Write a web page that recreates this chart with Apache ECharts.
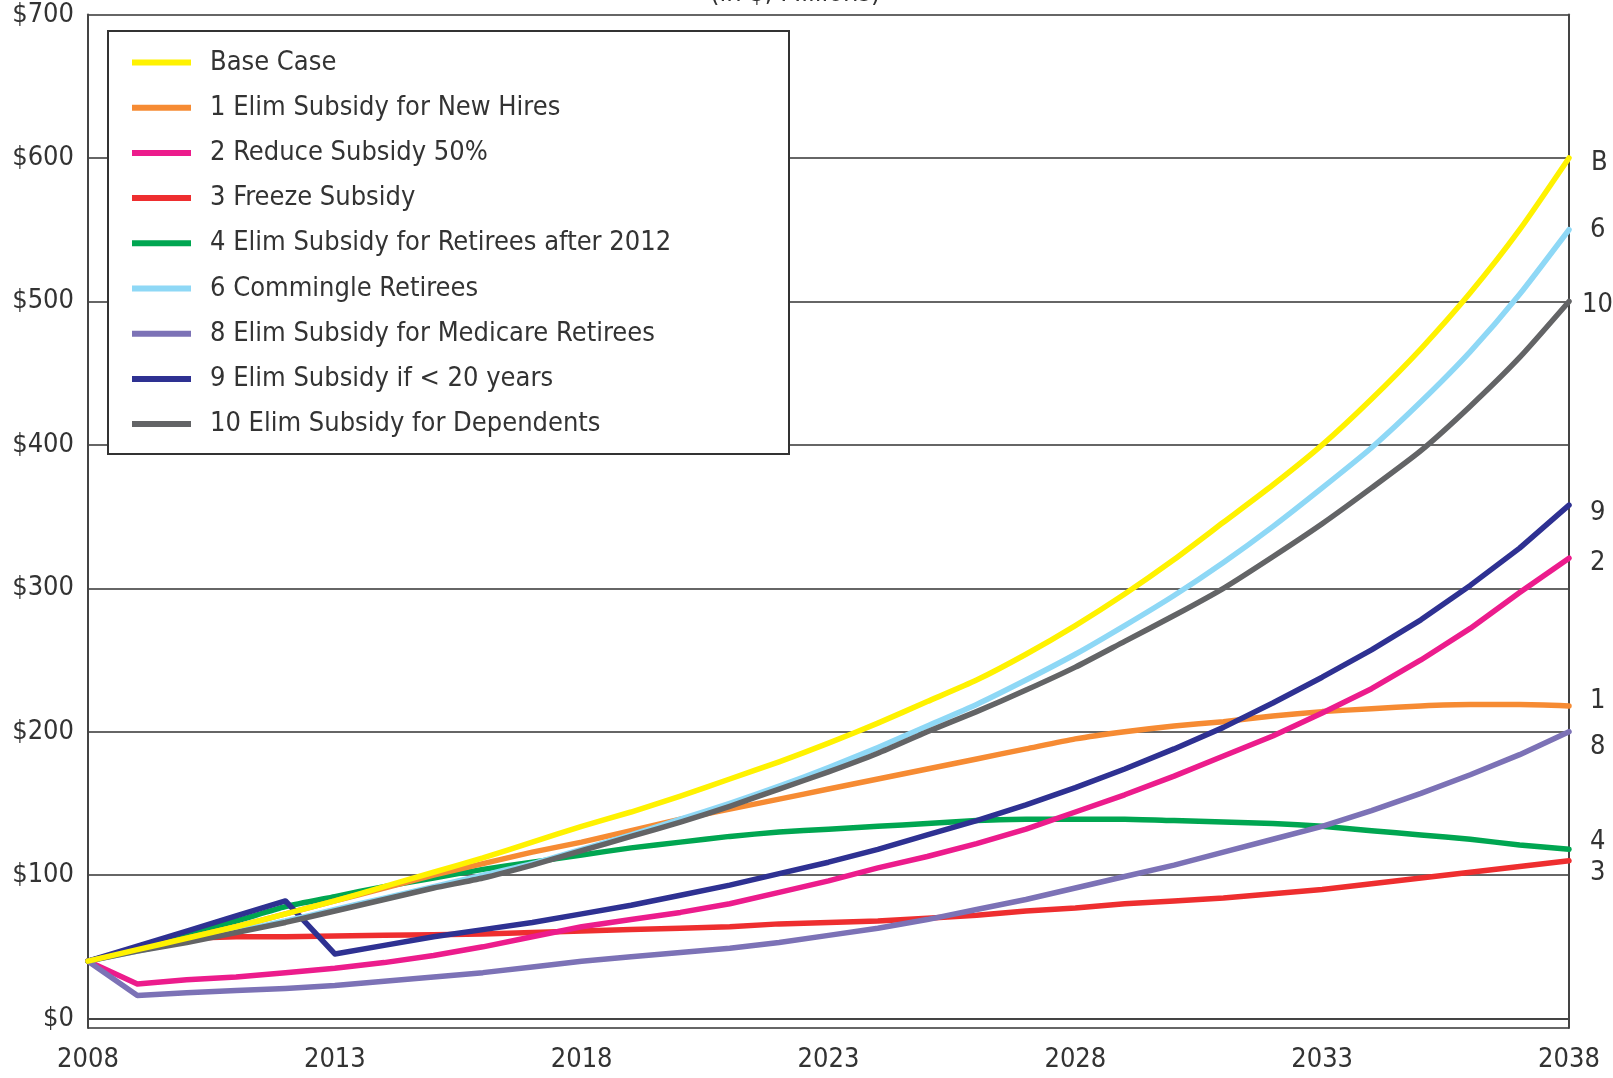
<!DOCTYPE html>
<html><head><meta charset="utf-8">
<script src="https://cdn.jsdelivr.net/npm/echarts@6/dist/echarts.min.js"></script>
<style>html,body{margin:0;padding:0;background:#fff}#c{width:1613px;height:1078px}</style>
</head><body><div id="c"></div>
<script>
const years = ['2008','2009','2010','2011','2012','2013','2014','2015','2016','2017','2018','2019','2020','2021','2022','2023','2024','2025','2026','2027','2028','2029','2030','2031','2032','2033','2034','2035','2036','2037','2038'];

const baseCase = [40,48,56,64,73,82,92,102,112,123,134,144,155,167,179,192,206,221,236,254,274,296,320,346,372,400,432,467,506,550,600];
const elimNewHires = [40,48,56,64,73,82,91,100,108,116,123,131,139,146,153,160,167,174,181,188,195,200,204,207,211,214,216,218,219,219,218];
const reduce50 = [40,24,27,29,32,35,39,44,50,57,64,69,74,80,88,96,105,113,122,132,144,156,169,183,197,213,230,250,272,297,321];
const freezeSubsidy = [40,48,56,57,57,57.5,58,58.5,59,60,61,62,63,64,66,67,68,70,72,75,77,80,82,84,87,90,94,98,102,106,110];
const elimRetirees2012 = [40,49,59,68,78,85,92,98,104,109,114,119,123,127,130,132,134,136,138,139,139,139,138,137,136,134,131,128,125,121,118];
const commingle = [40,47,54,61,68,76,84,92,100,108,118,128,139,150,162,175,189,204,219,236,254,274,295,318,343,370,398,430,465,505,550];
const elimMedicare = [40,16,18,19.5,21,23,26,29,32,36,40,43,46,49,53,58,63,69,76,83,91,99,107,116,125,134,145,157,170,184,200];
const elimUnder20 = [40,50.5,61,71.5,82,45,51,57,62,67,73,79,86,93,101,109,118,128,138,149,161,174,188,203,220,238,257,278,302,328,358];
const elimDependents = [40,47,53,60,67,75,83,91,98,107,117,127,137,148,160,172,185,200,214,229,245,263,281,300,322,345,370,396,427,461,500];

const seriesNames = ['Base Case','1 Elim Subsidy for New Hires','2 Reduce Subsidy 50%','3 Freeze Subsidy','4 Elim Subsidy for Retirees after 2012','6 Commingle Retirees','8 Elim Subsidy for Medicare Retirees','9 Elim Subsidy if < 20 years','10 Elim Subsidy for Dependents'];
const endTags = ['B','1','2','3','4','6','8','9','10'];
const seriesData = [baseCase, elimNewHires, reduce50, freezeSubsidy, elimRetirees2012, commingle, elimMedicare, elimUnder20, elimDependents];

const colors = ['#FFF200','#F68B33','#EC1C8C','#EE2E2F','#00A651','#8ED8F6','#7C72B6','#2E3192','#636466'];
const tagOffsets = [[22,5],[21,-5],[21,5],[21,12],[21,-7],[21,0],[21,15],[21,8],[13,4]];
const smoothness = [0.2,0.2,0,0,0.2,0.2,0,0,0.2];
const drawOrder = [3,4,1,2,6,7,5,8,0];

const FONT = '"Liberation Sans Narrow","DejaVu Sans Condensed","Roboto",sans-serif';
const TXT = '#333333';

const series = drawOrder.map(i => ({
  name: seriesNames[i],
  type: 'line',
  data: seriesData[i],
  showSymbol: false,
  smooth: smoothness[i] || false,
  color: colors[i],
  lineStyle: { width: 5.5, color: colors[i], cap: 'round', join: 'round' },
  emphasis: { disabled: true },
  endLabel: {
    show: true,
    formatter: endTags[i],
    distance: 0,
    offset: tagOffsets[i],
    color: TXT,
    fontSize: 27,
    fontFamily: FONT
  }
}));

const chart = echarts.init(document.getElementById('c'), null, { renderer: 'canvas' });
chart.setOption({
  animation: false,
  backgroundColor: '#ffffff',
  title: {
    text: '(in $, Millions)',
    left: 705, top: -25,
    textStyle: { fontSize: 27, fontWeight: 'normal', color: TXT, fontFamily: FONT }
  },
  grid: { left: 88, right: 44, top: 14.6, bottom: 50, containLabel: false },
  graphic: [{
    type: 'rect', z: 3,
    shape: { x: 108, y: 31, width: 681, height: 423 },
    style: { fill: '#ffffff', stroke: '#333333', lineWidth: 2 }
  }],
  legend: {
    data: seriesNames,
    orient: 'vertical',
    left: 132, top: 49,
    padding: 0,
    z: 5,
    icon: 'rect',
    itemWidth: 59, itemHeight: 6,
    itemGap: 18.2,
    selectedMode: false,
    textStyle: { fontSize: 27, lineHeight: 27, color: TXT, fontFamily: FONT, padding: [0, 0, 0, 14] }
  },
  xAxis: {
    type: 'category',
    data: years,
    boundaryGap: false,
    axisLine: { show: true, lineStyle: { color: '#444444', width: 2 } },
    axisTick: { show: false },
    axisLabel: { interval: 4, fontSize: 27, color: TXT, fontFamily: FONT, margin: 18 },
    splitLine: { show: false }
  },
  yAxis: [{
    type: 'value',
    min: -6.6, max: 700, splitNumber: 7,
    axisLine: { show: true, lineStyle: { color: '#444444', width: 2 } },
    axisTick: { show: false },
    axisLabel: {
      fontSize: 27, color: TXT, fontFamily: FONT, margin: 14,
      formatter: v => (v < 0 ? '' : '$' + v)
    },
    splitLine: { show: true, lineStyle: { color: '#333333', width: 1.5 } }
  }, {
    type: 'value', position: 'right',
    min: -6.6, max: 700, splitNumber: 7,
    axisLine: { show: true, lineStyle: { color: '#444444', width: 2 } },
    axisTick: { show: false },
    axisLabel: { show: false },
    splitLine: { show: false }
  }],
  series: series
});
</script>
</body></html>
